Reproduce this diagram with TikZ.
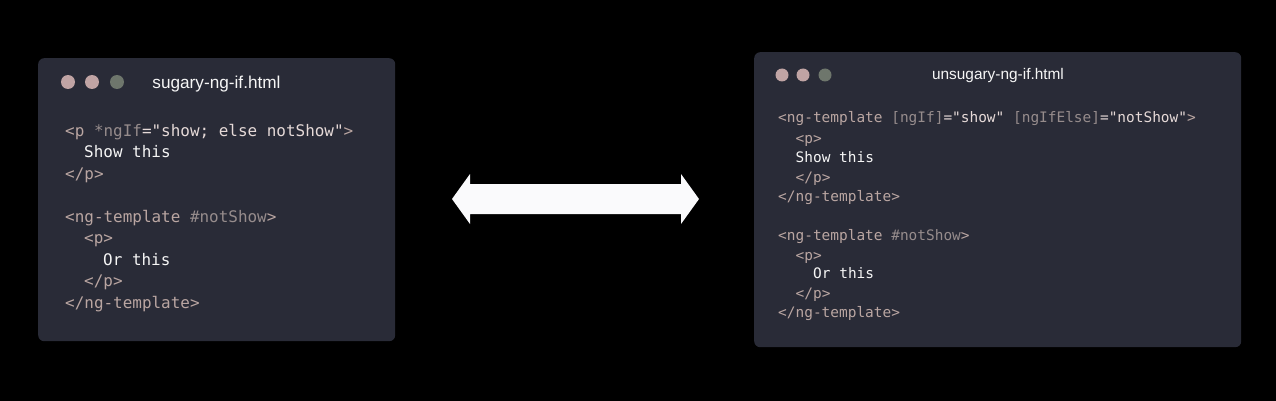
\documentclass[tikz,border=0pt]{standalone}
\usepackage{fontspec}
\setmainfont{Liberation Sans}
\newfontfamily\codefont{DejaVu Sans Mono}
\definecolor{bgc}{RGB}{0,0,0}
\definecolor{boxc}{RGB}{41,43,55}
\definecolor{dotA}{RGB}{192,164,164}
\definecolor{dotC}{RGB}{110,118,108}
\definecolor{tagc}{RGB}{186,166,162}
\definecolor{attrc}{RGB}{150,140,140}
\definecolor{strc}{RGB}{230,218,216}
\definecolor{txtc}{RGB}{246,246,246}
\definecolor{arrc}{RGB}{250,250,252}
\begin{document}
\begin{tikzpicture}[x=1pt,y=-1pt,
  codebox/.style={fill=boxc,rounded corners=6pt},
  wdot/.style={circle,inner sep=0pt,minimum size=14pt},
  title/.style={text=txtc,font=\fontsize{17.2}{20}\selectfont,inner sep=0pt},
  lcode/.style={anchor=base west,inner sep=0pt,font=\codefont\fontsize{15.95}{18}\selectfont,text=tagc},
  rcode/.style={anchor=base west,inner sep=0pt,font=\codefont\fontsize{14.45}{18}\selectfont,text=tagc}]
\fill[bgc] (0,0) rectangle (1276,401);
\useasboundingbox (0,0) rectangle (1276,401);
% left box
\node[codebox,minimum width=357pt,minimum height=283pt,anchor=north west,inner sep=0pt] (lbox) at (38,58) {};
\node[wdot,fill=dotA] (l1) at (68,82) {};
\node[wdot,fill=dotA] (l2) at (92,82) {};
\node[wdot,fill=dotC] (l3) at (117,82) {};
\node[title] (ltitle) at (216.5,84) {sugary-ng-if.html};
\node[lcode] (la) at (65,136.5) {<p \textcolor{attrc}{*ngIf}\textcolor{strc}{="show; else notShow"}>};
\node[lcode] (lb) at (84,157.5) {\textcolor{txtc}{Show this}};
\node[lcode] (lc) at (65,179) {</p>};
\node[lcode] (ld) at (65,222) {<ng-template \textcolor{attrc}{\#notShow}>};
\node[lcode] (le) at (84,243.5) {<p>};
\node[lcode] (lf) at (103,265) {\textcolor{txtc}{Or this}};
\node[lcode] (lg) at (84,286.5) {</p>};
\node[lcode] (lh) at (65,308) {</ng-template>};
% right box
\node[codebox,minimum width=487pt,minimum height=295pt,anchor=north west,inner sep=0pt] (rbox) at (754,52) {};
\node[wdot,fill=dotA,minimum size=13pt] (r1) at (782,75) {};
\node[wdot,fill=dotA,minimum size=13pt] (r2) at (803,75) {};
\node[wdot,fill=dotC,minimum size=13pt] (r3) at (825,75) {};
\node[title,font=\fontsize{15.4}{18}\selectfont] (rtitle) at (998,76) {unsugary-ng-if.html};
\node[rcode] (ra) at (778,123) {<ng-template \textcolor{attrc}{[ngIf]}\textcolor{strc}{="show"} \textcolor{attrc}{[ngIfElse]}\textcolor{strc}{="notShow"}>};
\node[rcode] (rb) at (795.5,143) {<p>};
\node[rcode] (rc) at (795.5,162) {\textcolor{txtc}{Show this}};
\node[rcode] (rd) at (795.5,182) {</p>};
\node[rcode] (re) at (778,201) {</ng-template>};
\node[rcode] (rf) at (778,240) {<ng-template \textcolor{attrc}{\#notShow}>};
\node[rcode] (rg) at (795.5,260) {<p>};
\node[rcode] (rh) at (813,278.5) {\textcolor{txtc}{Or this}};
\node[rcode] (ri) at (795.5,298.5) {</p>};
\node[rcode] (rj) at (778,317.5) {</ng-template>};
% double arrow
\fill[arrc] (452,199) -- (470,174) -- (470,184) -- (681,184) -- (681,174) -- (699,199)
  -- (681,224) -- (681,214) -- (470,214) -- (470,224) -- cycle;
\end{tikzpicture}
\end{document}
